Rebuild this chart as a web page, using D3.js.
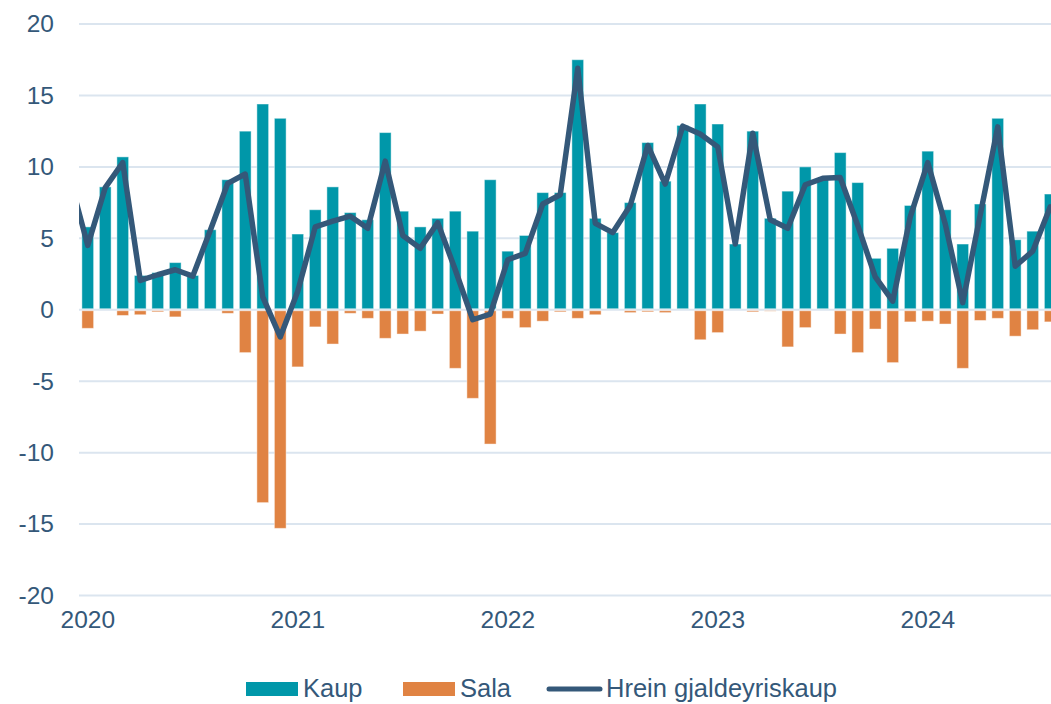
<!DOCTYPE html>
<html>
<head>
<meta charset="utf-8">
<script src="https://cdn.jsdelivr.net/npm/d3@7"></script>
<style>
    body { margin: 0; background: #fff; }
    svg { display: block; font-family: "Liberation Sans", Arial, sans-serif; }
</style>
</head>
<body>
<div id="chart"></div>
<script>
(function () {

    // months shown, Jan 2020 - Aug 2024 (Dec 2019 only feeds the start of the line)
    var months = ["2019-12"];
    var years = ["2020", "2021", "2022", "2023", "2024"];
    years.forEach(function (y) {
        for (var m = 1; m <= 12; m++) {
            if (y == "2024" && m > 8) break;
            months.push(y + "-" + (m < 10 ? "0" + m : m));
        }
    });

    // Kaup (purchases), Jan 2020 - Aug 2024
    var kaup = [5.8, 8.6, 10.7, 2.4, 2.6, 3.3, 2.4, 5.6, 9.1, 12.5, 14.4, 13.4,
        5.3, 7.0, 8.6, 6.8, 6.3, 12.4, 6.9, 5.8, 6.4, 6.9, 5.5, 9.1,
        4.1, 5.2, 8.2, 8.2, 17.5, 6.4, 5.4, 7.5, 11.7, 9.0, 12.9, 14.4,
        13.0, 4.6, 12.5, 6.4, 8.3, 10.0, 9.2, 11.0, 8.9, 3.6, 4.3, 7.3,
        11.1, 7.0, 4.6, 7.4, 13.4, 4.9, 5.5, 8.1];

    // Sala (sales), Jan 2020 - Aug 2024
    var sala = [-1.3, -0.05, -0.4, -0.35, -0.15, -0.5, -0.05, -0.05, -0.25, -3.0, -13.5, -15.3,
        -4.0, -1.2, -2.4, -0.25, -0.6, -2.0, -1.7, -1.5, -0.3, -4.1, -6.2, -9.4,
        -0.6, -1.25, -0.8, -0.15, -0.6, -0.35, 0, -0.2, -0.15, -0.2, -0.05, -2.1,
        -1.6, 0, -0.15, -0.1, -2.6, -1.25, 0, -1.7, -3.0, -1.35, -3.7, -0.85,
        -0.8, -1.0, -4.1, -0.75, -0.6, -1.85, -1.4, -0.85];

    // Hrein gjaldeyriskaup (net), Dec 2019 - Aug 2024
    var hrein = [9.1,
        4.5, 8.55, 10.3, 2.05, 2.45, 2.8, 2.35, 5.55, 8.85, 9.5, 0.9, -1.9,
        1.3, 5.8, 6.2, 6.55, 5.7, 10.4, 5.2, 4.3, 6.1, 2.8, -0.7, -0.3,
        3.5, 3.95, 7.4, 8.05, 16.9, 6.05, 5.4, 7.3, 11.5, 8.8, 12.85, 12.3,
        11.4, 4.6, 12.35, 6.3, 5.7, 8.75, 9.2, 9.25, 5.9, 2.3, 0.6, 6.5,
        10.3, 6.0, 0.5, 6.65, 12.8, 3.05, 4.1, 7.2];

    var yTicks = [-20, -15, -10, -5, 0, 5, 10, 15, 20];

    var legendItems = ["Kaup", "Sala", "Hrein gjaldeyriskaup"];


    var width = 1051;
    var height = 704;

    var colKaup = "#0097a9";
    var colSala = "#e08343";
    var colLine = "#345879";
    var colText = "#345879";
    var colGrid = "#dbe5ef";

    var plotLeft = 79;

    var svg = d3.select("#chart")
        .append("svg")
        .attr("width", width)
        .attr("height", height);

    // x: one band per month, Dec 2019 sits just left of the plot
    var x = d3.scaleBand()
        .domain(months)
        .range([plotLeft - 17.5, plotLeft - 17.5 + months.length * 17.5])
        .paddingInner(0.33)
        .paddingOuter(0.165);

    var y = d3.scaleLinear()
        .domain([-20, 20])
        .range([595.5, 24]);

    svg.append("clipPath")
        .attr("id", "plotClip")
        .append("rect")
        .attr("x", plotLeft)
        .attr("y", 0)
        .attr("width", width - plotLeft)
        .attr("height", height);

    // gridlines
    svg.append("g")
        .selectAll("line")
        .data(yTicks)
        .enter()
        .append("line")
        .attr("x1", plotLeft)
        .attr("x2", width)
        .attr("y1", function (d) { return y(d); })
        .attr("y2", function (d) { return y(d); })
        .attr("stroke", colGrid)
        .attr("stroke-width", 2);

    // y axis labels - plain hyphen for negatives like the original
    var yAxis = d3.axisLeft(y)
        .tickValues(yTicks)
        .tickFormat(function (d) { return String(d); })
        .tickSize(0)
        .tickPadding(0);
    var yg = svg.append("g")
        .attr("transform", "translate(54,0)")
        .call(yAxis);
    yg.select(".domain").remove();
    yg.selectAll("text")
        .attr("fill", colText)
        .style("font-size", "24.5px")
        .style("font-family", "'Liberation Sans', Arial, sans-serif");

    // x axis labels (January of each year)
    var janMonths = years.map(function (yr) { return yr + "-01"; });
    var xAxis = d3.axisBottom(x)
        .tickValues(janMonths)
        .tickFormat(function (d) { return d.slice(0, 4); })
        .tickSize(0)
        .tickPadding(0);
    var xg = svg.append("g")
        .attr("transform", "translate(0,611)")
        .call(xAxis);
    xg.select(".domain").remove();
    xg.selectAll("text")
        .attr("fill", colText)
        .style("font-size", "24.5px")
        .style("font-family", "'Liberation Sans', Arial, sans-serif");

    var plot = svg.append("g").attr("clip-path", "url(#plotClip)");

    var barMonths = months.slice(1);

    // Kaup bars
    plot.append("g")
        .selectAll("rect")
        .data(kaup)
        .enter()
        .append("rect")
        .attr("x", function (d, i) { return x(barMonths[i]); })
        .attr("width", x.bandwidth())
        .attr("y", function (d) { return y(d); })
        .attr("height", function (d) { return y(0) - 1 - y(d); })
        .attr("fill", colKaup)
        .attr("stroke", "#fff")
        .attr("stroke-opacity", 0.45)
        .attr("stroke-width", 1);

    // Sala bars
    plot.append("g")
        .selectAll("rect")
        .data(sala)
        .enter()
        .append("rect")
        .attr("x", function (d, i) { return x(barMonths[i]); })
        .attr("width", x.bandwidth())
        .attr("y", y(0) + 1)
        .attr("height", function (d) { return Math.max(0, y(d) - y(0) - 1); })
        .attr("fill", colSala)
        .attr("stroke", "#fff")
        .attr("stroke-opacity", 0.45)
        .attr("stroke-width", 1);

    // net line
    var line = d3.line()
        .x(function (d, i) { return x(months[i]) + x.bandwidth() / 2; })
        .y(function (d) { return y(d); });

    plot.append("path")
        .datum(hrein)
        .attr("d", line)
        .attr("fill", "none")
        .attr("stroke", colLine)
        .attr("stroke-width", 5.5)
        .attr("stroke-linejoin", "round")
        .attr("stroke-linecap", "round");

    // legend
    var legendX = [246, 403, 546];
    var legend = svg.append("g").attr("class", "legend");

    legendItems.forEach(function (name, i) {
        var g = legend.append("g").attr("transform", "translate(" + legendX[i] + ",0)");
        if (i < 2) {
            g.append("rect")
                .attr("x", 0)
                .attr("y", 682)
                .attr("width", 52)
                .attr("height", 14)
                .attr("fill", i == 0 ? colKaup : colSala);
        } else {
            g.append("line")
                .attr("x1", 3)
                .attr("x2", 54)
                .attr("y1", 689)
                .attr("y2", 689)
                .attr("stroke", colLine)
                .attr("stroke-width", 5)
                .attr("stroke-linecap", "round");
        }
        g.append("text")
            .attr("x", i < 2 ? 57 : 60)
            .attr("y", 697)
            .attr("fill", colText)
            .style("font-size", "25.5px")
            .text(name);
    });

})();
</script>
</body>
</html>
